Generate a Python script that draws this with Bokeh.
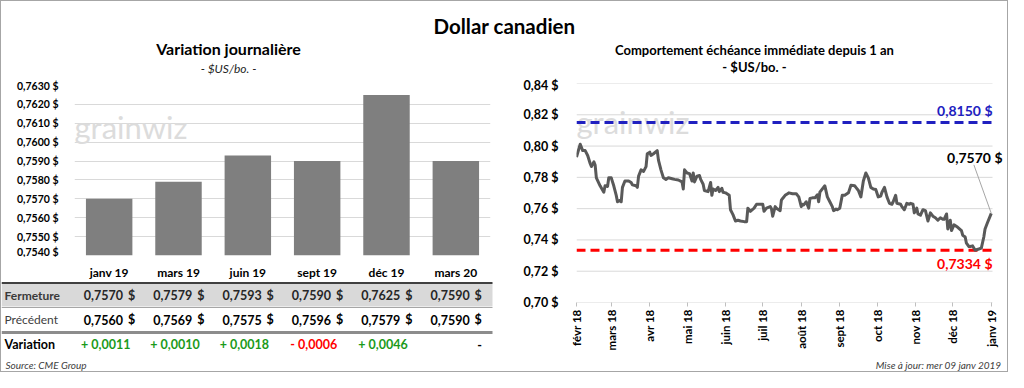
import numpy as np
import pandas as pd
from bokeh.plotting import figure
from bokeh.models import (FactorRange, Range1d, FixedTicker, Label,
                          CustomJSTickFormatter)
from bokeh.layouts import row, column
from bokeh.core.properties import value
from bokeh.embed import file_html
from bokeh.resources import INLINE

# ---------------- data ----------------
contracts = ["janv 19", "mars 19", "juin 19", "sept 19", "déc 19", "mars 20"]
fermeture = [0.7570, 0.7579, 0.7593, 0.7590, 0.7625, 0.7590]
precedent = [0.7560, 0.7569, 0.7575, 0.7596, 0.7579, 0.7590]
variation = [0.0011, 0.0010, 0.0018, -0.0006, 0.0046, 0.0]
bar_y_ticks = [0.7540, 0.7550, 0.7560, 0.7570, 0.7580, 0.7590,
               0.7600, 0.7610, 0.7620, 0.7630]
row_labels = ["Fermeture", "Précédent", "Variation"]

start_date = "2018-02-01"
day_offset = [
    0, 3, 5, 7, 9, 11, 12, 14, 15, 16,
    19, 22, 23, 25, 26, 28, 30, 32, 33, 35,
    36, 37, 39, 42, 44, 45, 48, 49, 50, 52,
    54, 56, 57, 59, 60, 62, 65, 66, 68, 70,
    72, 74, 77, 79, 82, 85, 86, 87, 89, 91,
    93, 94, 95, 97, 99, 100, 102, 103, 106, 108,
    109, 110, 112, 114, 115, 117, 118, 120, 123, 124,
    126, 128, 130, 132, 135, 137, 138, 140, 143, 145,
    148, 150, 151, 153, 156, 157, 158, 160, 161, 164,
    165, 166, 168, 170, 171, 174, 177, 178, 179, 181,
    182, 183, 185, 187, 188, 190, 192, 194, 195, 196,
    198, 200, 202, 204, 206, 207, 209, 210, 212, 214,
    216, 219, 221, 224, 225, 227, 229, 231, 233, 235,
    237, 239, 241, 243, 245, 246, 248, 250, 252, 254,
    255, 257, 258, 261, 262, 264, 266, 268, 269, 271,
    272, 274, 275, 277, 279, 281, 283, 285, 287, 289,
    291, 293, 295, 296, 298, 299, 301, 302, 304, 307,
    310, 311, 313, 314, 316, 317, 319, 321, 324, 326,
    328, 329, 331, 334]
price = [
    0.7930, 0.8012, 0.7971, 0.7971, 0.7940, 0.7889, 0.7869, 0.7899, 0.7879, 0.7797,
    0.7746, 0.7705, 0.7746, 0.7742, 0.7797, 0.7797, 0.7746, 0.7685, 0.7644, 0.7654,
    0.7644, 0.7736, 0.7777, 0.7777, 0.7767, 0.7752, 0.7746, 0.7736, 0.7808, 0.7848,
    0.7838, 0.7869, 0.7951, 0.7961, 0.7940, 0.7951, 0.7971, 0.7910, 0.7848, 0.7797,
    0.7787, 0.7797, 0.7791, 0.7787, 0.7783, 0.7771, 0.7726, 0.7848, 0.7828, 0.7824,
    0.7777, 0.7828, 0.7771, 0.7808, 0.7812, 0.7787, 0.7756, 0.7716, 0.7709, 0.7767,
    0.7685, 0.7726, 0.7716, 0.7736, 0.7709, 0.7730, 0.7705, 0.7701, 0.7685, 0.7593,
    0.7562, 0.7521, 0.7526, 0.7521, 0.7517, 0.7517, 0.7603, 0.7583, 0.7603, 0.7628,
    0.7628, 0.7628, 0.7583, 0.7603, 0.7613, 0.7599, 0.7552, 0.7613, 0.7603, 0.7587,
    0.7654, 0.7665, 0.7685, 0.7695, 0.7701, 0.7695, 0.7695, 0.7685, 0.7675, 0.7613,
    0.7628, 0.7624, 0.7644, 0.7603, 0.7665, 0.7669, 0.7669, 0.7689, 0.7644, 0.7705,
    0.7726, 0.7746, 0.7675, 0.7644, 0.7613, 0.7587, 0.7597, 0.7593, 0.7603, 0.7685,
    0.7685, 0.7701, 0.7750, 0.7746, 0.7736, 0.7716, 0.7675, 0.7777, 0.7828, 0.7797,
    0.7736, 0.7726, 0.7722, 0.7675, 0.7681, 0.7705, 0.7736, 0.7675, 0.7634, 0.7628,
    0.7644, 0.7685, 0.7634, 0.7628, 0.7613, 0.7593, 0.7634, 0.7628, 0.7634, 0.7628,
    0.7573, 0.7603, 0.7566, 0.7558, 0.7593, 0.7587, 0.7521, 0.7573, 0.7552, 0.7542,
    0.7526, 0.7542, 0.7532, 0.7532, 0.7566, 0.7470, 0.7526, 0.7460, 0.7497, 0.7481,
    0.7460, 0.7430, 0.7419, 0.7379, 0.7358, 0.7358, 0.7362, 0.7334, 0.7342, 0.7348,
    0.7419, 0.7470, 0.7511, 0.7570]
month_labels = ["févr 18", "mars 18", "avr 18", "mai 18", "juin 18", "juil 18",
                "août 18", "sept 18", "oct 18", "nov 18", "déc 18", "janv 19"]
line_y_ticks = [0.70, 0.72, 0.74, 0.76, 0.78, 0.80, 0.82, 0.84]
high_52w = 0.8150
low_52w = 0.7334
last_price = 0.7570

# ---------------- layout constants ----------------
FONT = "Lato"
W, H = 1006, 370
HDR_H = 76
FOOT_H = 14
LW = 503
RW = W - LW
BAR_H = 180
TAB_H = H - HDR_H - BAR_H - FOOT_H
RIGHT_H = H - HDR_H - FOOT_H
GRID = "#d9d9d9"
GREEN = "#1a9a1a"
RED = "#ff0000"
BLUE = "#2020c0"


def fr(v, d):
    return f"{v:.{d}f}".replace(".", ",")


def blank_fig(w, h, xr, yr):
    f = figure(width=w, height=h, x_range=xr, y_range=yr, toolbar_location=None,
               output_backend="svg", x_axis_location=None, y_axis_location=None,
               min_border=0, frame_align=False)
    f.grid.visible = False
    f.outline_line_color = None
    return f


def lab(p, x, y, text, size, style="normal", color="black", align="center",
        baseline="middle", units="data", **kw):
    p.add_layout(Label(x=x, y=y, x_units=units, y_units=units, text=text,
                       text_font=FONT, text_font_size=size, text_font_style=style,
                       text_color=color, text_align=align, text_baseline=baseline, **kw))


# ---------------- header with all titles ----------------
hdr = blank_fig(W, HDR_H, Range1d(0, W), Range1d(HDR_H, 0))
lab(hdr, W / 2, 24, "Dollar canadien", "20.5px", "bold")
lab(hdr, 227, 47, "Variation journalière", "16px", "bold")
lab(hdr, 227, 67, "- $US/bo. -", "12px", "italic", color="#262626")
lab(hdr, 753, 48, "Comportement échéance immédiate depuis 1 an", "13px", "bold")
lab(hdr, 753, 65, "- $US/bo. -", "13px", "bold")

# ---------------- bar chart ----------------
BL, BR, BT, BB = 73, 14, 8, 2
bfh = BAR_H - BT - BB
pb = figure(width=LW, height=BAR_H, x_range=FactorRange(*contracts),
            y_range=Range1d(bar_y_ticks[0], bar_y_ticks[-1]),
            toolbar_location=None, output_backend="svg", x_axis_location=None,
            frame_align=False,
            min_border_left=BL, min_border_right=BR, min_border_top=BT, min_border_bottom=BB)
pb.outline_line_color = None
pb.xgrid.visible = False
pb.ygrid.grid_line_color = GRID
pb.ygrid.ticker = FixedTicker(ticks=bar_y_ticks)
pb.yaxis.ticker = FixedTicker(ticks=bar_y_ticks)
pb.yaxis.formatter = CustomJSTickFormatter(code="return tick.toFixed(4).replace('.', ',') + ' $'")
pb.yaxis.axis_line_color = None
pb.yaxis.major_tick_line_color = None
pb.yaxis.minor_tick_line_color = None
pb.yaxis.major_label_text_font = FONT
pb.yaxis.major_label_text_font_style = "bold"
pb.yaxis.major_label_text_color = "black"
pb.yaxis.major_label_text_font_size = "10.5px"
pb.yaxis.major_label_standoff = 10
lab(pb, 0, bfh - 41, "grainwiz", "31px", color="#dcdcdc", align="left",
    baseline="alphabetic", units="screen", level="underlay")
pb.vbar(x=contracts, top=fermeture, bottom=bar_y_ticks[0], width=0.67,
        fill_color="#7f7f7f", line_color=None)

# ---------------- table (category header + rows) ----------------
cw = (LW - BL - BR) / len(contracts)
tx = Range1d(-BL / cw, (LW - BL) / cw)
pt = blank_fig(LW, TAB_H, tx, Range1d(TAB_H, 0))
xl, xr = tx.start, (491 - BL) / cw
pt.quad(left=xl, right=xr, top=26, bottom=49, fill_color="#d9d9d9", line_color=None)
pt.segment(x0=xl, x1=xr, y0=25.5, y1=25.5, line_color="#404040", line_width=2)
pt.segment(x0=xl, x1=xr, y0=50, y1=50, line_color="#a6a6a6", line_width=1)
pt.segment(x0=xl, x1=xr, y0=75, y1=75, line_color="#8c8c8c", line_width=3)
xc = np.arange(len(contracts)) + 0.5
n = len(contracts)
ry = [37.5, 62, 87]
tf = dict(text_font=value(FONT), text_baseline="middle", text_font_style="bold")
pt.text(x=xc, y=[15] * n, text=contracts, text_align="center",
        text_font_size="12px", text_color="black", **tf)
for yy, vals, col in ((ry[0], fermeture, "#262626"), (ry[1], precedent, "black")):
    pt.text(x=xc + 0.20, y=[yy] * n, text=[fr(v, 4) for v in vals],
            text_align="right", text_font_size="12.5px", text_color=col, **tf)
    pt.text(x=xc + 0.375, y=[yy] * n, text=["$"] * n,
            text_align="right", text_font_size="12.5px", text_color=col, **tf)
vx, vt, vc, zx = [], [], [], []
for i, v in enumerate(variation):
    if abs(v) < 1e-12:
        zx.append(xc[i] + 0.375)
    else:
        vx.append(xc[i] - 0.05)
        vt.append(("+ " if v > 0 else "- ") + fr(abs(v), 4))
        vc.append(GREEN if v > 0 else RED)
pt.text(x=vx, y=[ry[2]] * len(vx), text=vt, text_color=vc, text_align="center",
        text_font_size="12.5px", **tf)
pt.text(x=zx, y=[ry[2]] * len(zx), text=["-"] * len(zx), text_color="black",
        text_align="right", text_font_size="12.5px", **tf)
row_styles = [("bold", "#3a3a3a", "12px"), ("normal", "#404040", "12px"),
              ("bold", "black", "12.5px")]
for name, yy, (st, col, sz) in zip(row_labels, ry, row_styles):
    lab(pt, xl + 3 / cw, yy, name, sz, st, color=col, align="left")

# ---------------- line chart ----------------
RL, RR, RT = 72, 4, 6
rfh = 219
RB = RIGHT_H - RT - rfh
data_end = day_offset[-1] + 1
px_per_day = (RW - RL - 15) / data_end
frame_w = RW - RL - RR
x_end = frame_w / px_per_day
base = pd.Timestamp(start_date)
month_starts = pd.date_range(start_date, periods=len(month_labels), freq="MS")
tick_days = [int((d - base).days) for d in month_starts]

pr = figure(width=RW, height=RIGHT_H, x_range=Range1d(0, x_end),
            y_range=Range1d(line_y_ticks[0], line_y_ticks[-1]),
            toolbar_location=None, output_backend="svg", frame_align=False,
            min_border_left=RL, min_border_right=RR, min_border_top=RT, min_border_bottom=RB)
pr.outline_line_color = None
pr.grid.visible = False
pr.yaxis.ticker = FixedTicker(ticks=line_y_ticks)
pr.yaxis.formatter = CustomJSTickFormatter(code="return tick.toFixed(2).replace('.', ',') + ' $'")
pr.xaxis.ticker = FixedTicker(ticks=tick_days)
pr.xaxis.major_label_overrides = dict(zip(tick_days, month_labels))
pr.xaxis.major_label_orientation = np.pi / 2
for ax in (pr.xaxis, pr.yaxis):
    ax.minor_tick_line_color = None
    ax.axis_line_color = None
    ax.major_label_text_font = FONT
    ax.major_label_text_font_style = "bold"
    ax.major_label_text_color = "black"
pr.yaxis.major_tick_line_color = None
pr.yaxis.major_label_text_font_size = "12.5px"
pr.yaxis.major_label_standoff = 12
pr.xaxis.major_tick_line_color = "#bfbfbf"
pr.xaxis.major_tick_out = 4
pr.xaxis.major_tick_in = 0
pr.xaxis.major_label_text_font_size = "11.5px"
pr.xaxis.major_label_standoff = 3

# horizontal gridlines limited to the data period
nt = len(line_y_ticks)
pr.segment(x0=[0] * nt, x1=[data_end] * nt, y0=line_y_ticks, y1=line_y_ticks,
           line_color=GRID, line_width=1)
lab(pr, 0, rfh - 38, "grainwiz", "31px", color="#dcdcdc", align="left",
    baseline="alphabetic", units="screen", level="underlay")
pr.segment(x0=[0, 0], x1=[data_end, data_end], y0=[high_52w, low_52w],
           y1=[high_52w, low_52w], line_color=[BLUE, RED], line_width=3,
           line_dash="9 5")
pr.line(x=day_offset, y=price, line_color="#595959", line_width=3, line_join="round")
pr.segment(x0=day_offset[-1] - 14, y0=price[-1] + 0.031, x1=day_offset[-1], y1=price[-1],
           line_color="#a6a6a6", line_width=1)
lab(pr, data_end, high_52w, fr(high_52w, 4) + " $", "14px", "bold", color=BLUE,
    align="right", baseline="bottom", y_offset=4)
lab(pr, data_end, low_52w, fr(low_52w, 4) + " $", "14px", "bold", color=RED,
    align="right", baseline="top", y_offset=-5)
lab(pr, data_end, last_price + 0.036, fr(last_price, 4) + " $", "14px", "bold",
    align="right", x_offset=10)

# ---------------- footer ----------------
ftr = blank_fig(W, FOOT_H, Range1d(0, W), Range1d(FOOT_H, 0))
lab(ftr, 4, 7, "Source: CME Group", "10px", "italic", color="#404040", align="left")
lab(ftr, 1000, 7, "Mise à jour: mer 09 janv 2019", "10px", "italic",
    color="#404040", align="right")

# ---------------- assemble ----------------
left = column(pb, pt, spacing=0)
body = row(left, pr, spacing=0)
root = column(hdr, body, ftr, spacing=0, styles={"border": "1px solid #a6a6a6"})

open("out.html", "w").write(file_html(root, INLINE))
